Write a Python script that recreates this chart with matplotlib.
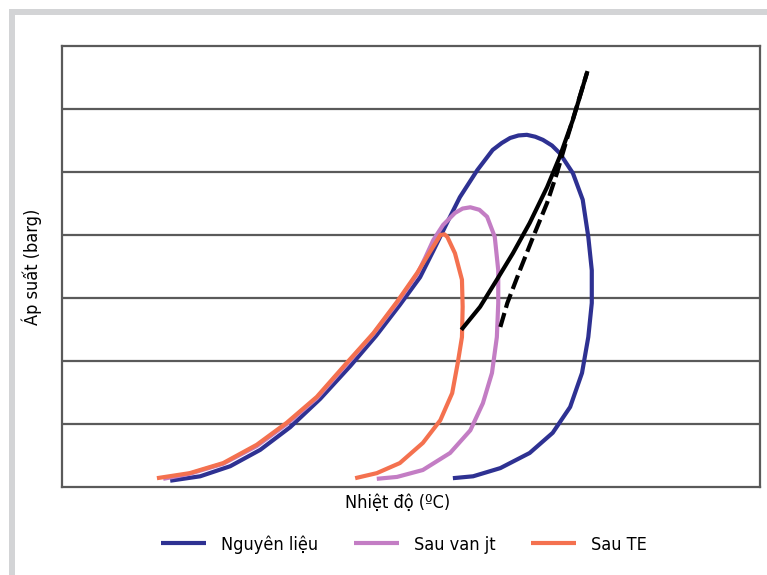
import matplotlib
matplotlib.use('Agg')
import matplotlib.pyplot as plt
from matplotlib.patches import Rectangle

plt.rcParams['font.family'] = ['DejaVu Sans']
plt.rcParams['font.stretch'] = 'condensed'

# Phase envelopes (temperature, pressure in arbitrary units)
feed_t = [15.5, 19.8, 24.1, 28.4, 32.7, 37.0, 41.3, 45.0, 48.4, 51.3, 53.2, 55.1,
          57.0, 59.5, 61.7, 63.0, 64.2, 65.4, 66.6, 67.8, 68.9, 70.2, 71.3, 73.2,
          74.6, 75.4, 75.9, 75.9, 75.4, 74.5, 72.8, 70.3, 67.0, 62.8, 58.9, 56.0]
feed_p = [1.0, 1.7, 3.3, 5.9, 9.5, 14.0, 19.2, 24.0, 28.9, 33.3, 37.5, 41.8,
          46.0, 50.3, 53.5, 54.6, 55.4, 55.8, 55.9, 55.6, 55.1, 54.2, 53.0, 49.8,
          45.6, 39.7, 34.4, 29.2, 23.8, 18.1, 12.7, 8.6, 5.4, 3.0, 1.7, 1.4]

jt_t = [14.5, 18.3, 23.1, 27.9, 32.2, 36.5, 40.8, 44.6, 48.0, 50.9, 52.0, 53.2,
        54.6, 56.3, 57.4, 58.5, 59.8, 60.9, 62.0, 62.5, 62.5, 62.3, 61.6, 60.3,
        58.5, 55.6, 51.7, 48.0, 45.1]
jt_p = [1.3, 2.1, 3.7, 6.5, 10.0, 14.1, 19.5, 24.3, 29.2, 33.8, 36.3, 39.2,
        41.6, 43.5, 44.2, 44.4, 44.0, 42.9, 39.7, 34.4, 29.2, 23.8, 18.1, 13.3,
        9.0, 5.4, 2.7, 1.6, 1.3]

te_t = [13.6, 18.3, 23.1, 27.9, 32.2, 36.5, 40.8, 44.6, 48.0, 50.9, 52.7, 53.6,
        54.2, 54.8, 55.2, 56.3, 57.3, 57.4, 57.3, 56.7, 55.9, 54.2, 51.7, 48.4,
        45.1, 42.0]
te_p = [1.4, 2.2, 3.8, 6.7, 10.2, 14.3, 19.7, 24.4, 29.4, 34.0, 37.3, 38.9,
        40.0, 40.1, 39.7, 37.1, 32.9, 28.6, 23.8, 19.7, 14.9, 10.6, 7.0, 3.8,
        2.2, 1.4]

# Black lines near the cricondentherm
solid_t = [57.4, 59.9, 62.3, 64.6, 67.0, 69.5, 71.3, 73.2, 75.2]
solid_p = [25.2, 28.6, 32.9, 37.1, 41.9, 47.6, 52.4, 58.3, 65.7]
dash_t = [62.8, 63.8, 65.6, 67.5, 69.5, 70.9, 72.3, 75.2]
dash_p = [25.4, 29.2, 34.4, 39.7, 45.1, 49.8, 55.1, 65.7]

labels = ['Nguyên liệu', 'Sau van jt', 'Sau TE']
colors = ['#2e3192', '#c37dc4', '#f4714f']

fig = plt.figure(figsize=(7.67, 5.75), dpi=100)

# light grey frame round the figure
fig.add_artist(Rectangle((9 / 767, 0), 6 / 767, 1 - 9 / 575,
                         transform=fig.transFigure, color='#d3d4d6', lw=0))
fig.add_artist(Rectangle((9 / 767, 1 - 15 / 575), 1, 6 / 575,
                         transform=fig.transFigure, color='#d3d4d6', lw=0))

ax = fig.add_axes([62 / 767, 1 - 487 / 575, 698 / 767, 441 / 575])
ax.set_xlim(0, 100)
ax.set_ylim(0, 70)

for y in range(10, 70, 10):
    ax.axhline(y, color='#5a5a5a', lw=1.6, zorder=1)

lw = 3.0
ax.plot(feed_t, feed_p, color=colors[0], lw=lw, solid_capstyle='butt',
        solid_joinstyle='round', label=labels[0], zorder=3)
ax.plot(jt_t, jt_p, color=colors[1], lw=lw, solid_capstyle='butt',
        solid_joinstyle='round', label=labels[1], zorder=4)
ax.plot(te_t, te_p, color=colors[2], lw=lw, solid_capstyle='butt',
        solid_joinstyle='round', label=labels[2], zorder=5)
ax.plot(solid_t, solid_p, color='black', lw=3, solid_joinstyle='round', zorder=6)
ax.plot(dash_t, dash_p, color='black', lw=3, dashes=(3.5, 1.3), zorder=6)

for s in ax.spines.values():
    s.set_color('#5a5a5a')
    s.set_linewidth(1.6)
ax.set_xticks([])
ax.set_yticks([])

ax.set_ylabel('Áp suất (barg)', fontsize=13)
ax.yaxis.set_label_coords(-0.029, 0.5)
ax.set_xlabel('Nhiệt độ (ºC)', fontsize=13)
ax.xaxis.set_label_coords((398 - 62) / 698, -0.015)

ax.legend(loc='upper center', bbox_to_anchor=(0.49, -0.072), ncol=3,
          frameon=False, fontsize=13, handlelength=2.5, handletextpad=0.8,
          columnspacing=2.0)

plt.savefig('out.png', dpi=100)
